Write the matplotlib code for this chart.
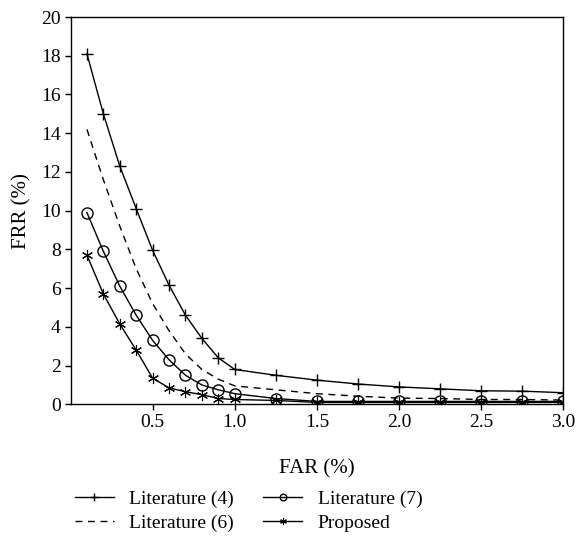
import matplotlib
matplotlib.use("Agg")
import matplotlib.pyplot as plt

plt.rcParams['font.family'] = ['Liberation Serif', 'DejaVu Serif']

far = [0.1, 0.2, 0.3, 0.4, 0.5, 0.6, 0.7, 0.8, 0.9, 1.0,
       1.25, 1.5, 1.75, 2.0, 2.25, 2.5, 2.75, 3.0]
lit4 = [18.1, 15.0, 12.3, 10.1, 7.95, 6.15, 4.6, 3.4, 2.4, 1.8,
        1.5, 1.25, 1.05, 0.9, 0.8, 0.7, 0.68, 0.6]
lit6 = [14.2, 11.6, 9.2, 7.0, 5.2, 3.8, 2.6, 1.8, 1.3, 0.95,
        0.75, 0.55, 0.42, 0.32, 0.3, 0.25, 0.25, 0.22]
lit7 = [9.9, 7.9, 6.1, 4.6, 3.3, 2.3, 1.5, 1.0, 0.75, 0.55,
        0.3, 0.15, 0.15, 0.15, 0.15, 0.15, 0.15, 0.15]
proposed = [7.7, 5.7, 4.15, 2.8, 1.35, 0.85, 0.65, 0.5, 0.3, 0.25,
            0.2, 0.1, 0.1, 0.1, 0.1, 0.1, 0.1, 0.1]

xticks = [0.5, 1.0, 1.5, 2.0, 2.5, 3.0]
yticks = [0, 2, 4, 6, 8, 10, 12, 14, 16, 18, 20]

fig = plt.figure(figsize=(5.77, 5.42), dpi=100)
ax = fig.add_axes([0.1222, 0.254, 0.854, 0.7146])

lw = 1.0
ax.plot(far, lit4, color='black', lw=lw, marker='+', markersize=9,
        markeredgewidth=1.0, label='Literature (4)')
ax.plot(far, lit6, color='black', lw=lw, ls=(0, (5, 4)), label='Literature (6)')
ax.plot(far, lit7, color='black', lw=lw, marker='o', markersize=8,
        fillstyle='none', markeredgewidth=1.0, label='Literature (7)')
ax.plot(far, proposed, color='black', lw=lw, marker=(6, 2, 0), markersize=8,
        markeredgewidth=0.8, label='Proposed')

ax.set_xlim(0, 3.0)
ax.set_ylim(0, 20)
ax.set_xticks(xticks)
ax.set_xticklabels([f'{v:.1f}' for v in xticks])
ax.set_yticks(yticks)
ax.tick_params(direction='out', length=4, width=1, labelsize=14, pad=3,
               colors='black')
for s in ax.spines.values():
    s.set_linewidth(1.0)

ax.set_xlabel('FAR (%)', fontsize=15, labelpad=20)
ax.set_ylabel('FRR (%)', fontsize=15, labelpad=7)

leg = fig.legend(loc='upper left', bbox_to_anchor=(0.113, 0.113), ncol=2,
                 frameon=False, fontsize=14, markerscale=0.6, borderpad=0,
                 handlelength=2.0, columnspacing=1.5, labelspacing=0.3,
                 handletextpad=0.8)

fig.savefig('out.png', dpi=100)
